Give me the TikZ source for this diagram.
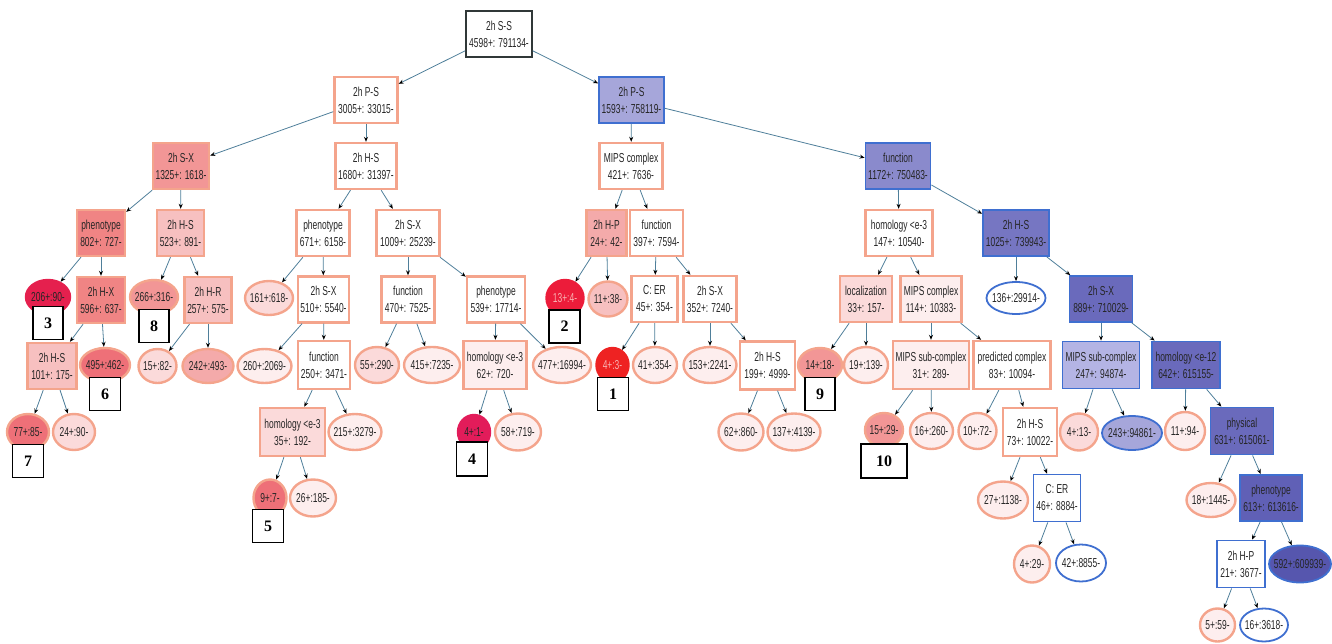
\documentclass[tikz,border=0pt]{standalone}
\usepackage{fontspec}
\setmainfont{Liberation Sans}
\newfontfamily\nf[FakeStretch=0.65]{Liberation Sans}
\newfontfamily\numf{Liberation Serif}
\usetikzlibrary{arrows.meta,shapes.geometric}
\definecolor{sal}{HTML}{F4A48C}
\definecolor{blu}{HTML}{3F6FD0}
\definecolor{rootc}{HTML}{303838}
\definecolor{edgec}{HTML}{4F7F9A}
\definecolor{p1}{HTML}{FDEEEE}
\definecolor{p2}{HTML}{FBDADA}
\definecolor{p3}{HTML}{F7C0C0}
\definecolor{p4}{HTML}{F4AAAA}
\definecolor{p5}{HTML}{F29696}
\definecolor{p6}{HTML}{F08484}
\definecolor{p7}{HTML}{EE7078}
\definecolor{r1}{HTML}{E5204E}
\definecolor{r2}{HTML}{EC1C3A}
\definecolor{r3}{HTML}{EE2222}
\definecolor{r4}{HTML}{E21C5A}
\definecolor{lt}{HTML}{F8B0B0}
\definecolor{b1}{HTML}{B4B4E4}
\definecolor{b2}{HTML}{A6A6DA}
\definecolor{b3}{HTML}{8A8ACC}
\definecolor{b4}{HTML}{7676C2}
\definecolor{b5}{HTML}{6A6ABC}
\definecolor{b6}{HTML}{6060B6}
\definecolor{b7}{HTML}{5656AE}
\newcommand\ET[1]{\makebox[0pt]{#1}}
\begin{document}
\begin{tikzpicture}[x=1pt,y=-1pt,
  every node/.style={font=\nf\fontsize{13}{17}\selectfont, align=center, inner sep=0pt, text=black!85},
  mw/.style={minimum width=#1},
  mh/.style={minimum height=#1},
  bx/.style={rectangle, draw=sal, line width=2.4pt, minimum height=46pt, fill=white},
  bbx/.style={rectangle, draw=blu, line width=1.8pt, minimum height=46pt, fill=white},
  el/.style={ellipse, draw=sal, line width=2.4pt, minimum height=35pt, fill=white},
  bel/.style={ellipse, draw=blu, line width=1.8pt, minimum height=35pt, fill=white},
  numbox/.style={rectangle, draw=black, line width=1.8pt, fill=white, text=black, font=\numf\bfseries\fontsize{16}{16}\selectfont, minimum width=30pt, minimum height=33pt},
  conn/.style={draw=edgec, line width=0.8pt, -{Stealth[length=5pt,width=4pt,black]}}
]
\useasboundingbox (0,0) rectangle (1332,643);
% level 0-2
\node[bx, draw=rootc, line width=1.6pt, mw=66] (root) at (499,34) {2h S-S\\4598+: 791134-};
\node[bx, mw=63] (PSl) at (366,100) {2h P-S\\3005+: 33015-};
\node[bbx, mw=65, fill=b2] (PSr) at (631.5,100) {2h P-S\\1593+: 758119-};
\node[bx, mw=56, fill=p5] (SX1325) at (181,166) {2h S-X\\1325+: 1618-};
\node[bx, mw=61] (HS1680) at (366,166) {2h H-S\\1680+: 31397-};
\node[bx, mw=63] (MIPS421) at (631,166) {MIPS complex\\421+: 7636-};
\node[bbx, mw=65, fill=b3] (fn1172) at (898,166) {function\\1172+: 750483-};
% level 3
\node[bx, mw=48, fill=p6] (ph802) at (101,233) {phenotype\\802+: 727-};
\node[bx, mw=47, fill=p3] (HS523) at (180.5,233) {2h H-S\\523+: 891-};
\node[bx, mw=53] (ph671) at (323,233) {phenotype\\671+: 6158-};
\node[bx, mw=63] (SX1009) at (408,233) {2h S-X\\1009+: 25239-};
\node[bx, mw=40, fill=p4] (HP24) at (606.5,233) {2h H-P\\24+: 42-};
\node[bx, mw=53] (fn397) at (656.5,233) {function\\397+: 7594-};
\node[bx, mw=67] (hom147) at (899,233) {homology <e-3\\147+: 10540-};
\node[bbx, mw=66, fill=b4] (HS1025) at (1016,233) {2h H-S\\1025+: 739943-};
% level 4
\node[el, mw=44, mh=34, fill=r1, draw=r1] (e206) at (48,297) {\ET{206+:90-}};
\node[bx, mw=48, fill=p6] (HX596) at (101,300) {2h H-X\\596+: 637-};
\node[el, mw=48, mh=34, fill=p5] (e266) at (154,297) {\ET{266+:316-}};
\node[bx, mw=47, fill=p3] (HR257) at (208,300) {2h H-R\\257+: 575-};
\node[el, mw=48, mh=34, fill=p2] (e161) at (269,298) {\ET{161+:618-}};
\node[bx, mw=51] (SX510) at (323.5,299.5) {2h S-X\\510+: 5540-};
\node[bx, mw=53] (fn470) at (408,299.5) {function\\470+: 7525-};
\node[bx, mw=58] (ph539) at (496,299.5) {phenotype\\539+: 17714-};
\node[el, mw=37, mh=36, fill=r2, draw=r2, text=lt] (e13) at (565,298) {\ET{13+:4-}};
\node[el, mw=39, fill=p3] (e11a) at (608,299) {\ET{11+:38-}};
\node[bx, mw=46] (CER45) at (654.5,299) {C: ER\\45+: 354-};
\node[bx, mw=53] (SX352) at (710,299) {2h S-X\\352+: 7240-};
\node[bx, mw=52, fill=p2] (loc33) at (866,299) {localization\\33+: 157-};
\node[bx, mw=61, fill=p1] (MIPS114) at (931,299) {MIPS complex\\114+: 10383-};
\node[bel, mw=59, mh=32] (e136) at (1016,298) {\ET{136+:29914-}};
\node[bbx, mw=63, fill=b5] (SX889) at (1101,299) {2h S-X\\889+: 710029-};
% level 5
\node[bx, mw=49, fill=p3] (HS101) at (52,366) {2h H-S\\101+: 175-};
\node[el, mw=50, mh=34, fill=p7] (e495) at (105,365) {\ET{495+:462-}};
\node[el, mw=38, mh=34, fill=p2] (e15a) at (157.5,366) {\ET{15+:82-}};
\node[el, mw=51, mh=34, fill=p4] (e242) at (208,366) {\ET{242+:493-}};
\node[el, mw=54, mh=34, fill=p1] (e260) at (264.5,366) {\ET{260+:2069-}};
\node[bx, mw=52, mh=48] (fn250) at (324,365) {function\\250+: 3471-};
\node[el, mw=44, mh=36, fill=p2] (e55) at (377,365) {\ET{55+:290-}};
\node[el, mw=56, mh=36, fill=p1] (e415) at (432,365) {\ET{415+:7235-}};
\node[bx, mw=63, mh=48, fill=p1] (hom62) at (495,365) {homology <e-3\\62+: 720-};
\node[el, mw=58, mh=36, fill=p1] (e477) at (562,365) {\ET{477+:16994-}};
\node[el, mw=32, mh=34, fill=r3, draw=r3, text=lt] (e4c) at (612.5,365) {\ET{4+:3-}};
\node[el, mw=44, mh=36, fill=p1] (e41) at (655,365) {\ET{41+:354-}};
\node[el, mw=53, mh=36, fill=p1] (e153) at (710,365) {\ET{153+:2241-}};
\node[bx, mw=55, mh=48] (HS199) at (767.5,365.5) {2h H-S\\199+: 4999-};
\node[el, mw=44, mh=34, fill=p5] (e14) at (820,365) {\ET{14+:18-}};
\node[el, mw=44, mh=36, fill=p1] (e19) at (866,365) {\ET{19+:139-}};
\node[bx, mw=76, mh=48, fill=p1] (MSC31) at (931,365) {MIPS sub-complex\\31+: 289-};
\node[bx, mw=77, mh=48] (pred83) at (1012,365) {predicted complex\\83+: 10094-};
\node[bbx, mw=77, mh=47, fill=b1] (MSC247) at (1101,365) {MIPS sub-complex\\247+: 94874-};
\node[bbx, mw=68, mh=47, fill=b5] (hom642) at (1186,365) {homology <e-12\\642+: 615155-};
% level 6
\node[el, mw=42, mh=36, fill=p7] (e77) at (28,432) {\ET{77+:85-}};
\node[el, mw=42, mh=36, fill=p2] (e24) at (74,432) {\ET{24+:90-}};
\node[bx, mw=65, mh=48, fill=p2] (hom35) at (292.5,432) {homology <e-3\\35+: 192-};
\node[el, mw=53, mh=36, fill=p1] (e215) at (355,432) {\ET{215+:3279-}};
\node[el, mw=32, mh=34, fill=r4, draw=r4] (e4a) at (474,432) {\ET{4+:1-}};
\node[el, mw=46, mh=37, fill=p1] (e58) at (518,432) {\ET{58+:719-}};
\node[el, mw=45, mh=37, fill=p1] (e62) at (741,432) {\ET{62+:860-}};
\node[el, mw=53, mh=37, fill=p1] (e137) at (794,432) {\ET{137+:4139-}};
\node[el, mw=38, mh=34, fill=p5] (e15b) at (884,430) {\ET{15+:29-}};
\node[el, mw=43, mh=36, fill=p1] (e16a) at (931.5,431) {\ET{16+:260-}};
\node[el, mw=38, mh=36, fill=p1] (e10) at (977.5,431) {\ET{10+:72-}};
\node[bx, mw=54, mh=48] (HS73) at (1030,432) {2h H-S\\73+: 10022-};
\node[el, mw=38, mh=37, fill=p2] (e4b) at (1079,432) {\ET{4+:13-}};
\node[bel, mw=60, mh=34, fill=b2] (e243) at (1132,433) {\ET{243+:94861-}};
\node[el, mw=40, mh=38, fill=p1] (e11b) at (1185,431) {\ET{11+:94-}};
\node[bbx, mw=63, mh=47, fill=b5] (phys) at (1242,431) {physical\\631+: 615061-};
% level 7
\node[el, mw=33, mh=37, fill=p7] (e9) at (270,498) {\ET{9+:7-}};
\node[el, mw=46, mh=37, fill=p1] (e26) at (313,498) {\ET{26+:185-}};
\node[el, mw=50, mh=37, fill=p1] (e27) at (1003,500) {\ET{27+:1138-}};
\node[bbx, mw=47, mh=47] (CER46) at (1057,498) {C: ER\\46+: 8884-};
\node[el, mw=49, mh=34, fill=p1] (e18) at (1211,500) {\ET{18+:1445-}};
\node[bbx, mw=62, mh=46, fill=b6] (ph613) at (1271,498) {phenotype\\613+: 613616-};
% level 8
\node[el, mw=36, mh=37, fill=p1] (e4d) at (1032,564) {\ET{4+:29-}};
\node[bel, mw=50, mh=37] (e42) at (1081,563) {\ET{42+:8855-}};
\node[bbx, mw=48, mh=47] (HP21) at (1241,564) {2h H-P\\21+: 3677-};
\node[bel, mw=62, mh=37, fill=b7] (e592) at (1300,564) {\ET{592+:609939-}};
% level 9
\node[el, mw=35, mh=33, fill=p1] (e5) at (1217.5,625) {\ET{5+:59-}};
\node[bel, mw=48, mh=33] (e16b) at (1264,625) {\ET{16+:3618-}};
% connectors
\foreach \a/\b in {root/PSl, root/PSr, PSl/SX1325, PSl/HS1680,
  SX1325/ph802, SX1325/HS523, ph802/e206, ph802/HX596, HX596/HS101, HX596/e495,
  HS101/e77, HS101/e24, HS523/e266, HS523/HR257, HR257/e15a, HR257/e242,
  HS1680/ph671, HS1680/SX1009, ph671/e161, ph671/SX510, SX510/e260, SX510/fn250,
  fn250/hom35, fn250/e215, hom35/e9, hom35/e26, SX1009/fn470, SX1009/ph539,
  fn470/e55, fn470/e415, ph539/hom62, ph539/e477, hom62/e4a, hom62/e58,
  PSr/MIPS421, PSr/fn1172, MIPS421/HP24, MIPS421/fn397, HP24/e13, HP24/e11a,
  fn397/CER45, fn397/SX352, CER45/e4c, CER45/e41, SX352/e153, SX352/HS199,
  HS199/e62, HS199/e137, fn1172/hom147, fn1172/HS1025, hom147/loc33, hom147/MIPS114,
  loc33/e14, loc33/e19, MIPS114/MSC31, MIPS114/pred83, MSC31/e15b, MSC31/e16a,
  pred83/e10, pred83/HS73, HS73/e27, HS73/CER46, CER46/e4d, CER46/e42,
  HS1025/e136, HS1025/SX889, SX889/MSC247, SX889/hom642, MSC247/e4b, MSC247/e243,
  hom642/e11b, hom642/phys, phys/e18, phys/ph613, ph613/HP21, ph613/e592,
  HP21/e5, HP21/e16b}
  \draw[conn] (\a) -- (\b);
% number labels
\node[numbox] (n3) at (48,323) {3};
\node[numbox] (n8) at (154,326) {8};
\node[numbox, minimum width=31pt] (n6) at (105,394) {6};
\node[numbox, minimum width=31pt] (n7) at (28,461) {7};
\node[numbox, minimum width=31pt] (n5) at (268,526) {5};
\node[numbox, minimum width=31pt, minimum height=34pt] (n4) at (472,459) {4};
\node[numbox, minimum width=31pt] (n2) at (564.5,326.5) {2};
\node[numbox, minimum width=31pt] (n1) at (613,394) {1};
\node[numbox] (n9) at (820,394) {9};
\node[numbox, minimum width=46pt, minimum height=34pt] (n10) at (884,461) {10};
\end{tikzpicture}
\end{document}
